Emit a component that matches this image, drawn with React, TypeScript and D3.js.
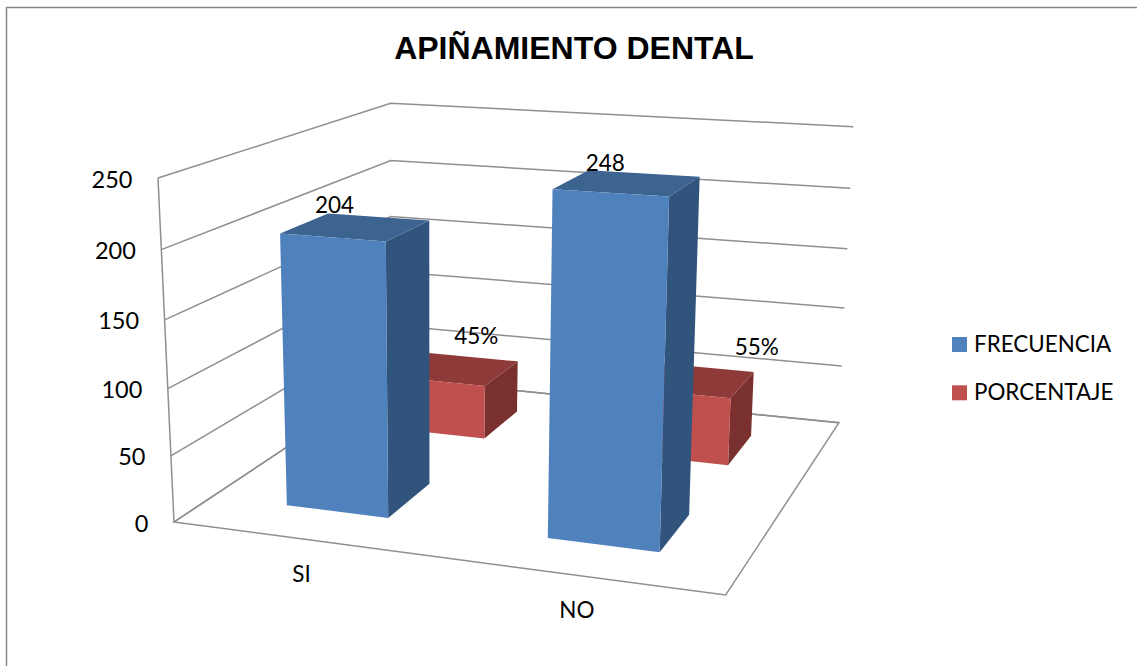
import React from "react";
import * as d3 from "d3";

const chartTitle = "APIÑAMIENTO DENTAL";
const categories = ["SI", "NO"];
const seriesNames = ["FRECUENCIA", "PORCENTAJE"];
const frecuencia = [204, 248];
const porcentaje = [45, 55];
const valueMax = 250;

type Pt = [number, number];

const WIDTH = 1137;
const HEIGHT = 666;

// Box corners of the 3D plot: floor and ceiling quads, ordered
// front-left, front-right, back-right, back-left.
const floorQuad: Pt[] = [[174, 522], [725.7, 595], [839, 422.7], [391, 378]];
const ceilingQuad: Pt[] = [[158, 178], [738, 215.7], [853.3, 126.7], [390.7, 103.3]];
const heightBend = 0.95;

const palette = {
  FRECUENCIA: { front: "#4f81bd", side: "#31547c", top: "#3d6390" },
  PORCENTAJE: { front: "#c0504d", side: "#7a302e", top: "#8e3a38" },
} as Record<string, { front: string; side: string; top: string }>;

// Unit square to quad, the standard projective mapping.
function quadMap(q: Pt[]) {
  const [[x0, y0], [x1, y1], [x2, y2], [x3, y3]] = q;
  const dx1 = x1 - x2, dx2 = x3 - x2, sx = x0 - x1 + x2 - x3;
  const dy1 = y1 - y2, dy2 = y3 - y2, sy = y0 - y1 + y2 - y3;
  const den = dx1 * dy2 - dx2 * dy1;
  const g = (sx * dy2 - dx2 * sy) / den;
  const h = (dx1 * sy - sx * dy1) / den;
  const a = x1 - x0 + g * x1, b = x3 - x0 + h * x3;
  const d = y1 - y0 + g * y1, e = y3 - y0 + h * y3;
  return (u: number, v: number): Pt => {
    const w = g * u + h * v + 1;
    return [(a * u + b * v + x0) / w, (d * u + e * v + y0) / w];
  };
}

const onFloor = quadMap(floorQuad);
const onCeiling = quadMap(ceilingQuad);

const heightScale = d3.scaleLinear().domain([0, valueMax]).range([0, 1]);
const columnScale = d3.scaleBand<string>().domain(categories).range([0, 1]).paddingInner(0.6).paddingOuter(0.3);
const depthScale = d3.scaleBand<string>().domain(seriesNames).range([0, 1]).paddingInner(0.6).paddingOuter(0.3);

// Position in the box: u along the categories, v into the depth, value upward.
function project(u: number, v: number, value: number): Pt {
  const t = heightScale(value);
  const s = (t * heightBend) / (1 + t * (heightBend - 1));
  const p0 = onFloor(u, v);
  const p1 = onCeiling(u, v);
  return [p0[0] + (p1[0] - p0[0]) * s, p0[1] + (p1[1] - p0[1]) * s];
}

const polyline = d3.line<Pt>();
const closed = (pts: Pt[]) => polyline(pts) + "Z";

const GRID = "#8f8f8f";
const TEXT_FONT = "Lato, Carlito, sans-serif";

// Hand placement of the value labels relative to each bar's top-front centre.
const labelShift: Record<string, Pt[]> = {
  FRECUENCIA: [[2, -24], [-5, -22]],
  PORCENTAJE: [[38, -37], [77, -38]],
};

function Bar({ series, index, value }: { series: string; index: number; value: number }) {
  const u0 = columnScale(categories[index])!;
  const u1 = u0 + columnScale.bandwidth();
  const v0 = depthScale(series)!;
  const v1 = v0 + depthScale.bandwidth();
  const c = palette[series];
  const front = [project(u0, v0, 0), project(u1, v0, 0), project(u1, v0, value), project(u0, v0, value)];
  const side = [project(u1, v0, 0), project(u1, v1, 0), project(u1, v1, value), project(u1, v0, value)];
  const top = [project(u0, v0, value), project(u1, v0, value), project(u1, v1, value), project(u0, v1, value)];
  return (
    <g>
      <path d={closed(side)} fill={c.side} />
      <path d={closed(top)} fill={c.top} />
      <path d={closed(front)} fill={c.front} />
    </g>
  );
}

function BarLabel({ series, index, value, text }: { series: string; index: number; value: number; text: string }) {
  const u = columnScale(categories[index])! + columnScale.bandwidth() / 2;
  const [x, y] = project(u, depthScale(series)!, value);
  const [dx, dy] = labelShift[series][index];
  return (
    <text x={x + dx} y={y + dy} textAnchor="middle" fontFamily={TEXT_FONT} fontSize={22.5} fill="#000">
      {text}
    </text>
  );
}

export default function App() {
  const ticks = heightScale.ticks(5);
  const rows = [
    { series: seriesNames[1], values: porcentaje, text: (v: number) => `${v}%` },
    { series: seriesNames[0], values: frecuencia, text: (v: number) => `${v}` },
  ];
  return (
    <svg width={WIDTH} height={HEIGHT} style={{ position: "absolute", left: 0, top: 0 }}>
      <rect width={WIDTH} height={HEIGHT} fill="#fff" />
      <path d={polyline([[6.5, HEIGHT], [6.5, 7.5], [WIDTH, 7.5]])!} fill="none" stroke="#868686" strokeWidth={1.5} />

      <text x={574} y={58.5} textAnchor="middle" fontFamily="'Liberation Sans', Arial, sans-serif" fontWeight="bold" fontSize={32} fill="#000">
        {chartTitle}
      </text>

      {/* walls */}
      <g fill="none" stroke={GRID} strokeWidth={1.5}>
        {ticks.map((t) => (
          <path key={t} d={polyline([project(0, 0, t), project(0, 1, t), project(1, 1, t)])!} />
        ))}
        <path d={polyline([project(0, 0, 0), project(0, 0, valueMax)])!} />
        <path d={closed([project(0, 0, 0), project(1, 0, 0), project(1, 1, 0), project(0, 1, 0)])} />
      </g>

      {/* value axis */}
      {ticks.map((t) => {
        const [x, y] = project(0, 0, t);
        return (
          <text key={t} x={x - 25.5} y={y + 9.5} textAnchor="end" fontFamily={TEXT_FONT} fontSize={23.5} fill="#000">
            {t}
          </text>
        );
      })}

      {/* category axis */}
      {categories.map((c) => {
        const [x, y] = project(columnScale(c)! + columnScale.bandwidth() / 2, 0, 0);
        return (
          <text key={c} x={x} y={y + 43} textAnchor="middle" fontFamily={TEXT_FONT} fontSize={22.5} fill="#000">
            {c}
          </text>
        );
      })}

      {/* back row first so the front row covers it */}
      {rows.map((r) =>
        r.values.map((v, i) => <Bar key={r.series + i} series={r.series} index={i} value={v} />)
      )}
      {rows.map((r) =>
        r.values.map((v, i) => <BarLabel key={r.series + i} series={r.series} index={i} value={v} text={r.text(v)} />)
      )}

      {/* legend */}
      {seriesNames.map((name, i) => (
        <g key={name}>
          <rect x={952} y={337 + i * 48.3} width={15} height={15} fill={palette[name].front} />
          <text x={974} y={352 + i * 48.3} fontFamily={TEXT_FONT} fontSize={22.4} fill="#000">
            {name}
          </text>
        </g>
      ))}
    </svg>
  );
}
